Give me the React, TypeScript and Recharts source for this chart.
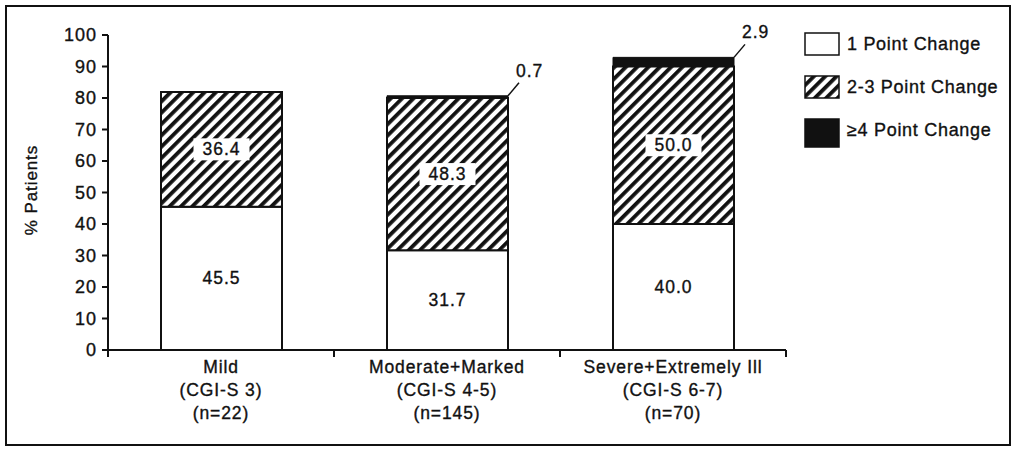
import React from "react";
import { BarChart, Bar, XAxis, YAxis, Legend, LabelList, Label } from "recharts";

const categories = ["Mild", "Moderate+Marked", "Severe+Extremely Ill"];
const cgiLabels = ["(CGI-S 3)", "(CGI-S 4-5)", "(CGI-S 6-7)"];
const sampleSizes = ["(n=22)", "(n=145)", "(n=70)"];
const onePoint = [45.5, 31.7, 40.0];
const twoThreePoint = [36.4, 48.3, 50.0];
const fourPlusPoint = [0, 0.7, 2.9];
const yTicks = [0, 10, 20, 30, 40, 50, 60, 70, 80, 90, 100];
const seriesNames = ["1 Point Change", "2-3 Point Change", "\u22654 Point Change"];

const data = categories.map((name, i) => ({
  name,
  cgi: cgiLabels[i],
  n: sampleSizes[i],
  one: onePoint[i],
  two: twoThreePoint[i],
  four: fourPlusPoint[i],
}));

const FONT = "'Liberation Sans', Arial, sans-serif";
const INK = "#111";
// scanned print looks a little heavier than plain Arial
const textStyle = (size: number, spacing = 0.9) => ({
  fontFamily: FONT,
  fontSize: size,
  letterSpacing: spacing,
  fill: INK,
  stroke: INK,
  strokeWidth: 0.35,
});

function HatchDef({ id }: { id: string }) {
  return (
    <pattern
      id={id}
      patternUnits="userSpaceOnUse"
      width={8}
      height={8}
      patternTransform="rotate(45)"
    >
      <rect x={0} y={0} width={8} height={8} fill="#fff" />
      <rect x={0} y={0} width={3.8} height={8} fill={INK} />
    </pattern>
  );
}

function CategoryTick(props: any) {
  const { x, y, payload } = props;
  const half = payload.offset || 113;
  const idx = categories.indexOf(payload.value);
  const row = data[idx];
  const style = textStyle(17.5, 0.9);
  return (
    <g>
      {idx === 0 && (
        <line x1={x - half} y1={y} x2={x - half} y2={y + 7} stroke={INK} strokeWidth={2} />
      )}
      <line x1={x + half} y1={y} x2={x + half} y2={y + 7} stroke={INK} strokeWidth={2} />
      <text x={x} y={y + 23} textAnchor="middle" style={style}>
        {row.name}
      </text>
      <text x={x} y={y + 46} textAnchor="middle" style={style}>
        {row.cgi}
      </text>
      <text x={x} y={y + 69} textAnchor="middle" style={style}>
        {row.n}
      </text>
    </g>
  );
}

function BoxLabel(props: any) {
  const { x, y, width, height, value } = props;
  if (!value) return null;
  const cx = x + width / 2;
  const cy = y + height / 2;
  return (
    <g>
      <rect x={cx - 28} y={cy - 11} width={56} height={22} fill="#fff" />
      <text x={cx} y={cy + 6} textAnchor="middle" style={textStyle(17.5, 1)}>
        {Number(value).toFixed(1)}
      </text>
    </g>
  );
}

function LeaderLabel(props: any) {
  const { x, y, width, value } = props;
  if (!value) return null;
  const x0 = x + width;
  return (
    <g>
      <line x1={x0} y1={y} x2={x0 + 11} y2={y - 13} stroke={INK} strokeWidth={1.5} />
      <text x={x0 + 8} y={y - 19} style={textStyle(17.5, 1)}>
        {Number(value).toFixed(1)}
      </text>
    </g>
  );
}

function LegendBox(props: any) {
  const { payload } = props;
  const items = payload || [];
  return (
    <svg width={212} height={130}>
      <defs>
        <HatchDef id="hatchLegend" />
      </defs>
      {items.map((item: any, i: number) => {
        const key = item.dataKey;
        const fill = key === "one" ? "#fff" : key === "two" ? "url(#hatchLegend)" : INK;
        const top = 5 + i * 43;
        return (
          <g key={key}>
            <rect
              x={2}
              y={top}
              width={34}
              height={key === "four" ? 28 : 22}
              fill={fill}
              stroke={INK}
              strokeWidth={1.5}
            />
            <text x={44} y={top + 17} style={textStyle(18, 0.7)}>
              {item.value}
            </text>
          </g>
        );
      })}
    </svg>
  );
}

export default function App() {
  return (
    <div
      style={{ position: "absolute", left: 0, top: 0, width: 1016, height: 452, background: "#fff" }}
    >
      <div
        style={{
          position: "absolute",
          left: 5,
          top: 5,
          width: 1002,
          height: 437,
          border: `2px solid ${INK}`,
        }}
      />
      <div style={{ position: "absolute", left: 0, top: 0 }}>
        <BarChart
          width={1016}
          height={452}
          data={data}
          margin={{ top: 35, right: 230, left: 60, bottom: 22 }}
        >
          <defs>
            <HatchDef id="hatchBar" />
          </defs>
          <XAxis
            dataKey="name"
            height={80}
            tickLine={false}
            tickSize={0}
            tickMargin={0}
            axisLine={{ stroke: INK, strokeWidth: 2 }}
            tick={<CategoryTick />}
            interval={0}
          />
          <YAxis
            width={48}
            domain={[0, 100]}
            ticks={yTicks}
            interval={0}
            tickSize={6}
            tickMargin={5}
            axisLine={{ stroke: INK, strokeWidth: 2 }}
            tickLine={{ stroke: INK, strokeWidth: 2 }}
            tick={textStyle(18, 1)}
          >
            <Label
              content={() => (
                <text
                  transform="translate(37,190) rotate(-90)"
                  textAnchor="middle"
                  style={textStyle(17, 0.9)}
                >
                  % Patients
                </text>
              )}
            />
          </YAxis>
          <Legend
            layout="vertical"
            align="center"
            verticalAlign="middle"
            wrapperStyle={{ position: "absolute", left: 803, top: 28, width: 212 }}
            content={<LegendBox />}
          />
          <Bar
            dataKey="one"
            name={seriesNames[0]}
            stackId="a"
            fill="#fff"
            stroke={INK}
            strokeWidth={2}
            barSize={121}
            isAnimationActive={false}
          >
            <LabelList dataKey="one" content={<BoxLabel />} />
          </Bar>
          <Bar
            dataKey="two"
            name={seriesNames[1]}
            stackId="a"
            fill="url(#hatchBar)"
            stroke={INK}
            strokeWidth={2}
            barSize={121}
            isAnimationActive={false}
          >
            <LabelList dataKey="two" content={<BoxLabel />} />
          </Bar>
          <Bar
            dataKey="four"
            name={seriesNames[2]}
            stackId="a"
            fill={INK}
            stroke={INK}
            strokeWidth={1}
            barSize={121}
            isAnimationActive={false}
          >
            <LabelList dataKey="four" content={<LeaderLabel />} />
          </Bar>
        </BarChart>
      </div>
    </div>
  );
}
